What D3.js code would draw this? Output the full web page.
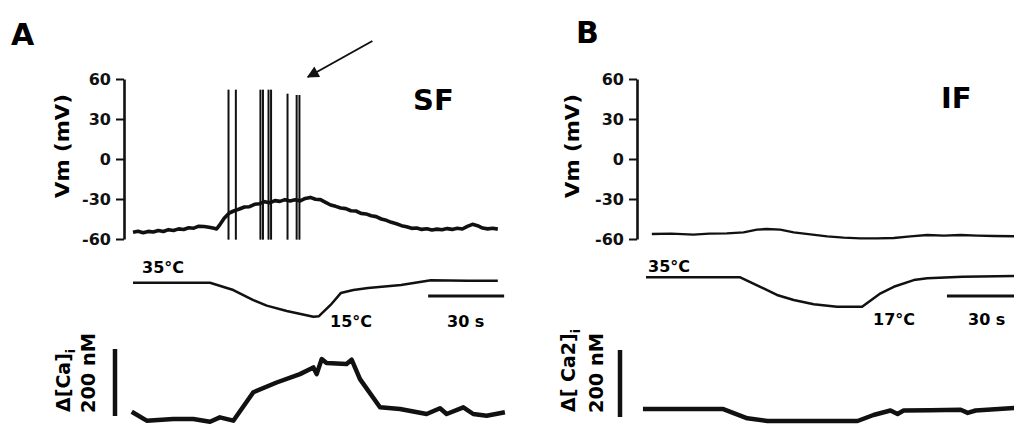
<!DOCTYPE html>
<html>
<head>
<meta charset="utf-8">
<script src="https://cdn.jsdelivr.net/npm/d3@7"></script>
<style>
  body { margin: 0; background: #fff; }
  svg { display: block; font-family: "DejaVu Sans", "Liberation Sans", Arial, sans-serif; }
</style>
</head>
<body>
<div id="my_dataviz"></div>
<script>
// ---- data (time in s from start of the trace) ----
var vmTicks = [60, 30, 0, -30, -60];

// A : SF cell
var vmTimeA = [0,2,4,6,8,10,12,14,16,18,20,22,24,26,28,30,32,33,34,36,38,40,42,44,46,48,50,52,54,56,58,60,62,64,66,68,70,72,74,76,78,80,82,84,86,88,90,92,94,96,98,100,102,104,106,108,110,112,114,116,118,120,122,124,126,128,130,132,134,136,138,140,142,144];
var vmA = [-55,-54.2,-55.3,-54.3,-54.8,-53.6,-54.4,-53,-53.6,-52.4,-52.9,-51.6,-51.9,-50.4,-50.6,-51.2,-52,-52.5,-50,
           -44.5,-40.5,-38.8,-37.5,-36,-35.8,-34,-33.5,-32,-32.8,-31.2,-31.8,-30.5,-31.5,-30.6,-31.4,-29.6,-28.8,-30.2,-30.5,
           -32.5,-34.5,-35.5,-36.8,-37.2,-38.8,-39,-40.8,-41.2,-42.6,-43.2,-45,-46,-47.5,-48.6,-50,-50.8,-52,-51.8,-52.8,
           -52.3,-53.2,-52.6,-53,-52.2,-52.8,-52,-52.5,-50.5,-49,-50,-51.8,-52.4,-52,-52.6];
var spikeTimesA = [37.7, 40.6, 50.3, 51.3, 53.5, 54.5, 61, 64.6, 65.7];
var spikePeaksA = [52, 52, 52, 52, 52, 52, 49, 48, 48];
var tempTimeA = [0, 30.4, 39.6, 47.5, 52.8, 60.7, 71.2, 73.4, 78, 82, 87, 92.8, 105.8, 117.6, 132, 144];
var tempA = [35, 35, 30.7, 24.8, 21.5, 18.4, 15, 15.3, 21.9, 28.9, 30.7, 31.9, 33.6, 36.4, 36.2, 36.2];
var caTimeA = [-0.5, 5.4, 15.9, 23.8, 30.4, 34.3, 39.6, 47.5, 56.7, 65.9, 71.2, 72.5, 74.5, 76.4, 84.3, 86.3, 89.6, 97.5, 105.4, 115.9, 121.2, 123.8, 130.4, 134.3, 139.6, 146.8];
var caA = [12.8, -14, -9, -9, -17, -4, -14, 71, 100, 125, 145, 125, 170, 158, 155, 168, 110, 26, 21, 6, 23, 6, 26, 6, 1, 11];

// B : IF cell
var vmTimeB = [2.3, 10, 18.7, 25, 31.9, 38.5, 43.8, 47.7, 53, 58.3, 64.9, 71.5, 78, 84.7, 91.3, 97.8, 104.4, 111, 117.6, 124.2, 130.8, 137.4, 145.6];
var vmB = [-56.25, -56, -56.75, -56, -55.75, -55, -53, -52.5, -53, -55, -56.5, -58, -59, -59.5, -59.5, -59.25, -58, -57, -57.5, -57, -57.5, -57.75, -58];
var tempTimeB = [0, 37.2, 45.1, 51.7, 58.3, 66.2, 75.4, 85.3, 92.6, 97.8, 105.7, 111, 125, 145.6];
var tempB = [35, 35, 29.2, 24.2, 21.1, 18.5, 17, 17, 25.2, 29.2, 33.3, 34.4, 35.3, 35.8];
var caTimeB = [-1.2, 30.5, 40, 47.9, 83.5, 89.8, 96.5, 99.3, 101.7, 112.3, 124.2, 127, 130.1, 145.6];
var caB = [23.7, 23.7, -4, -12, -12, 6, 19.4, 9.2, 19.4, 20, 21.5, 12.3, 19.4, 26.8];

// ---- svg ----
var svg = d3.select("#my_dataviz").append("svg")
    .attr("width", 1014)
    .attr("height", 425);

var defs = svg.append("defs");
defs.append("marker")
    .attr("id", "head")
    .attr("viewBox", "0 0 10 10")
    .attr("refX", 9).attr("refY", 5)
    .attr("markerWidth", 9).attr("markerHeight", 6)
    .attr("markerUnits", "strokeWidth")
    .attr("orient", "auto")
  .append("path")
    .attr("d", "M0,0L10,5L0,10z")
    .attr("fill", "#111");

var panels = [
  {
    letter: "A", letterX: 11, letterY: 45,
    name: "SF", nameX: 413, nameY: 110,
    x: d3.scaleLinear().domain([0, 30]).range([133, 209]),
    axisX: 124,
    yVm: d3.scaleLinear().domain([-60, 60]).range([239, 79]),
    yTemp: d3.scaleLinear().domain([15, 35]).range([316.7, 282.7]),
    yCa: d3.scaleLinear().domain([0, 200]).range([416, 349]),
    vmT: vmTimeA, vm: vmA, spT: spikeTimesA, spP: spikePeaksA,
    tT: tempTimeA, t: tempA, cT: caTimeA, c: caA,
    vmLabelX: 69, caLabelX: 70, nmLabelX: 95, caBarX: 115,
    caText: "Δ[Ca]",
    hiLabel: [142, 273], loText: "15°C", loLabel: [330, 327],
    barT: 116.5, barY: 296, secLabel: [447, 327],
    arrow: {t0: 94.5, v0: 88.5, t1: 69, v1: 61.5}
  },
  {
    letter: "B", letterX: 576, letterY: 43,
    name: "IF", nameX: 941, nameY: 108,
    x: d3.scaleLinear().domain([0, 30]).range([646, 722]),
    axisX: 637,
    yVm: d3.scaleLinear().domain([-60, 60]).range([239, 79]),
    yTemp: d3.scaleLinear().domain([17, 35]).range([306.7, 277.3]),
    yCa: d3.scaleLinear().domain([0, 200]).range([417, 350]),
    vmT: vmTimeB, vm: vmB, spT: [], spP: [],
    tT: tempTimeB, t: tempB, cT: caTimeB, c: caB,
    vmLabelX: 579, caLabelX: 575, nmLabelX: 603, caBarX: 620,
    caText: "Δ[ Ca2]",
    hiLabel: [648, 272], loText: "17°C", loLabel: [873, 325],
    barT: 118.8, barY: 296, secLabel: [968, 325],
    arrow: null
  }
];

panels.forEach(drawPanel);

function drawPanel(p) {
  var g = svg.append("g");

  // panel letter and cell type
  g.append("text").attr("x", p.letterX).attr("y", p.letterY)
      .style("font-size", "30px").style("font-weight", "bold").text(p.letter);
  g.append("text").attr("x", p.nameX).attr("y", p.nameY)
      .style("font-size", "29px").style("font-weight", "bold").text(p.name);

  // Vm axis
  var axis = g.append("g")
      .attr("transform", "translate(" + p.axisX + ",0)")
      .call(d3.axisLeft(p.yVm).tickValues(vmTicks).tickSize(8).tickPadding(5)
              .tickSizeOuter(0).tickFormat(function(d) { return String(d); }));
  axis.select(".domain").attr("stroke", "#111").attr("stroke-width", 2.6);
  axis.selectAll(".tick line").attr("stroke", "#111").attr("stroke-width", 2);
  axis.selectAll(".tick text")
      .attr("fill", "#111")
      .style("font-family", '"DejaVu Sans", sans-serif')
      .style("font-size", "16px").style("font-weight", "bold");

  g.append("text")
      .attr("transform", "translate(" + p.vmLabelX + ",198) rotate(-90)")
      .attr("textLength", 104).attr("lengthAdjust", "spacingAndGlyphs")
      .style("font-size", "20px").style("font-weight", "bold")
      .text("Vm (mV)");

  // Vm trace
  var vmLine = d3.line()
      .x(function(d) { return p.x(d[0]); })
      .y(function(d) { return p.yVm(d[1]); });
  g.append("path")
      .datum(d3.zip(p.vmT, p.vm))
      .attr("d", vmLine)
      .attr("fill", "none").attr("stroke", "#111")
      .attr("stroke-width", p.spT.length ? 3.6 : 2.4)
      .attr("stroke-linejoin", "round");

  // action potentials
  g.selectAll(".spike")
      .data(d3.zip(p.spT, p.spP))
      .enter().append("line")
      .attr("class", "spike")
      .attr("x1", function(d) { return p.x(d[0]); })
      .attr("x2", function(d) { return p.x(d[0]); })
      .attr("y1", function(d) { return p.yVm(d[1]); })
      .attr("y2", p.yVm(-60.5))
      .attr("stroke", "#111").attr("stroke-width", 2);

  // arrow
  if (p.arrow) {
    g.append("line")
        .attr("x1", p.x(p.arrow.t0)).attr("y1", p.yVm(p.arrow.v0))
        .attr("x2", p.x(p.arrow.t1)).attr("y2", p.yVm(p.arrow.v1))
        .attr("stroke", "#111").attr("stroke-width", 2)
        .attr("marker-end", "url(#head)");
  }

  // temperature trace
  var tLine = d3.line()
      .x(function(d) { return p.x(d[0]); })
      .y(function(d) { return p.yTemp(d[1]); });
  g.append("path")
      .datum(d3.zip(p.tT, p.t))
      .attr("d", tLine)
      .attr("fill", "none").attr("stroke", "#111")
      .attr("stroke-width", 2.5).attr("stroke-linejoin", "round");

  g.append("text").attr("x", p.hiLabel[0]).attr("y", p.hiLabel[1])
      .style("font-size", "16px").style("font-weight", "bold").text("35°C");
  g.append("text").attr("x", p.loLabel[0]).attr("y", p.loLabel[1])
      .style("font-size", "16px").style("font-weight", "bold").text(p.loText);

  // 30 s scale bar
  g.append("line")
      .attr("x1", p.x(p.barT)).attr("x2", p.x(p.barT + 30))
      .attr("y1", p.barY).attr("y2", p.barY)
      .attr("stroke", "#111").attr("stroke-width", 3.2);
  g.append("text").attr("x", p.secLabel[0]).attr("y", p.secLabel[1])
      .style("font-size", "16px").style("font-weight", "bold").text("30 s");

  // calcium trace
  var cLine = d3.line()
      .x(function(d) { return p.x(d[0]); })
      .y(function(d) { return p.yCa(d[1]); });
  g.append("path")
      .datum(d3.zip(p.cT, p.c))
      .attr("d", cLine)
      .attr("fill", "none").attr("stroke", "#111")
      .attr("stroke-width", 4.5).attr("stroke-linejoin", "round");

  // 200 nM scale bar + labels
  g.append("line")
      .attr("x1", p.caBarX).attr("x2", p.caBarX)
      .attr("y1", p.yCa(0)).attr("y2", p.yCa(200))
      .attr("stroke", "#111").attr("stroke-width", 4.5);

  var ca = g.append("text")
      .attr("transform", "translate(" + p.caLabelX + ",412) rotate(-90)")
      .style("font-size", "19px").style("font-weight", "bold");
  ca.append("tspan").text(p.caText);
  ca.append("tspan").attr("dy", 5).style("font-size", "13px").text("i");

  g.append("text")
      .attr("transform", "translate(" + p.nmLabelX + ",413) rotate(-90)")
      .attr("textLength", 80).attr("lengthAdjust", "spacingAndGlyphs")
      .style("font-size", "19px").style("font-weight", "bold")
      .text("200 nM");
}
</script>
</body>
</html>
